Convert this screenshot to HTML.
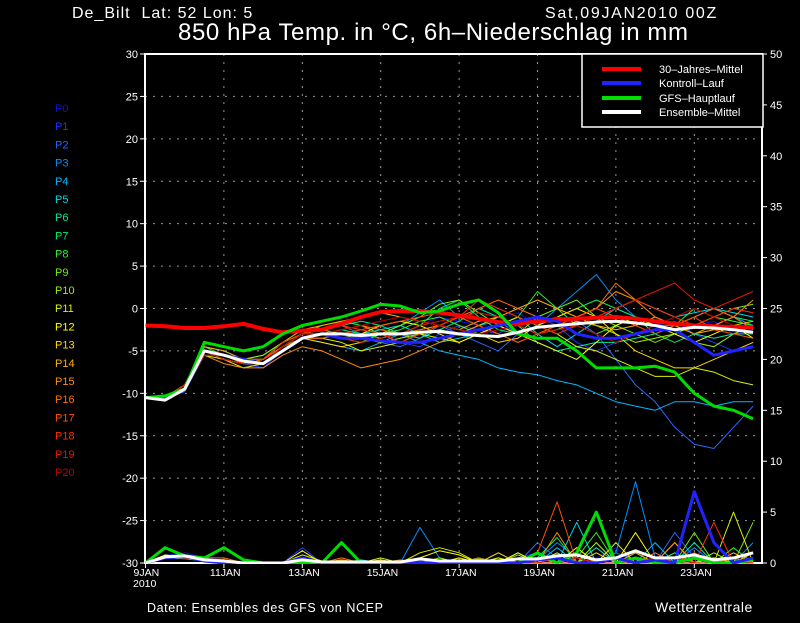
<!DOCTYPE html>
<html><head><meta charset="utf-8"><style>
body{margin:0;background:#000;width:800px;height:618px;overflow:hidden;font-family:"Liberation Sans",sans-serif;color:#fff}
svg text{font-family:"Liberation Sans",sans-serif;white-space:pre}
</style></head><body>
<svg id="chart" width="800" height="618" xmlns="http://www.w3.org/2000/svg">
<rect width="800" height="618" fill="#000"/>
<text x="72" y="18" font-size="16" fill="#fff" letter-spacing="1" xml:space="preserve">De_Bilt  Lat: 52 Lon: 5</text>
<text x="545" y="18" font-size="16" fill="#fff" letter-spacing="1.7">Sat,09JAN2010 00Z</text>
<text x="178" y="40" font-size="24" fill="#fff" letter-spacing="0.6">850 hPa Temp. in °C, 6h–Niederschlag in mm</text>
<text x="147" y="612" font-size="12.5" fill="#fff" letter-spacing="0.6">Daten: Ensembles des GFS von NCEP</text>
<text x="655" y="612" font-size="14" fill="#fff" letter-spacing="0.5">Wetterzentrale</text>
<defs><clipPath id="pc"><rect x="145" y="54" width="617" height="510"/></clipPath></defs>
<g id="grid"></g><g id="axes"></g><g id="members" clip-path="url(#pc)"></g><g id="members-labels"></g>
<g id="legend">
<rect x="582" y="54" width="181" height="73" fill="#000" stroke="#fff" stroke-width="1.5"/>
<line x1="602" y1="69" x2="641" y2="69" stroke="#f00" stroke-width="4"/>
<text x="659" y="73" font-size="11" fill="#fff">30–Jahres–Mittel</text>
<line x1="602" y1="83" x2="641" y2="83" stroke="#22f" stroke-width="4"/>
<text x="659" y="87" font-size="11" fill="#fff">Kontroll–Lauf</text>
<line x1="602" y1="98" x2="641" y2="98" stroke="#0d0" stroke-width="4"/>
<text x="659" y="102" font-size="11" fill="#fff">GFS–Hauptlauf</text>
<line x1="602" y1="112" x2="641" y2="112" stroke="#fff" stroke-width="4"/>
<text x="659" y="116" font-size="11" fill="#fff">Ensemble–Mittel</text>
</g>
</svg>
<script>
const NS="http://www.w3.org/2000/svg";
const tempTicks=[-30,-25,-20,-15,-10,-5,0,5,10,15,20,25,30];
const precipTicks=[0,5,10,15,20,25,30,35,40,45,50];
const dateLabels=["9JAN","11JAN","13JAN","15JAN","17JAN","19JAN","21JAN","23JAN"];
const dateDays=[0,2,4,6,8,10,12,14];
const memberNames=["P0","P1","P2","P3","P4","P5","P6","P7","P8","P9","P10","P11","P12","P13","P14","P15","P16","P17","P18","P19","P20"];
const memberColors=["#1010e0","#1838ff","#2868ff","#0090ff","#00b8ff","#00d8e0","#00e8a0","#00f060","#30f030","#70f000","#a0f000","#d8f000","#ffff00","#ffd800","#ffb000","#ff9000","#ff7000","#ff5000","#ff3000","#e01800","#c00000"];
const climate=[-2,-2.1,-2.3,-2.3,-2.1,-1.8,-2.4,-2.8,-2.6,-2.5,-1.8,-1,-0.4,-0.3,-0.3,-0.5,-0.8,-1.2,-1.6,-1.8,-1.5,-1.3,-1.2,-1.1,-1,-1.2,-1.5,-1.8,-2,-2.1,-2.2,-2.2];
const ensMean=[-10.5,-10.8,-9.5,-5,-5.5,-6.2,-6.5,-5,-3.5,-3,-3,-3.2,-3,-3,-2.8,-2.7,-3,-3.2,-3.3,-2.8,-2.2,-2,-1.8,-1.6,-1.5,-1.7,-2,-2.5,-2.2,-2.3,-2.5,-2.8];
const control=[-10.5,-10.5,-9.5,-5,-5.5,-6,-6.5,-5,-3.5,-3,-3.5,-3.5,-3.8,-4,-4,-3.5,-3,-2.5,-2,-1.5,-1,-1.5,-3,-3.5,-3.5,-3,-2.5,-2.5,-4,-5.5,-5,-4.5];
const gfsMain=[-10.5,-10.3,-9.5,-4,-4.5,-5,-4.5,-3,-2,-1.5,-1,-0.3,0.5,0.3,-0.5,-0.3,0.5,1,-0.5,-3,-3.5,-3.5,-5,-7,-7,-7,-6.8,-7.5,-10,-11.5,-12,-13];
const members=[
[-10.5,-10.6,-9,-4.5,-5,-6,-6,-4.5,-3,-3,-2.5,-3,-4,-3.5,-2,-1,-1.5,-2,-1,-0.5,-2,-3,-2,-1,0,-1,-2,-3,-2,-1.5,-3,-2.5],
[-10.5,-10.5,-9.5,-5,-6,-6.5,-7,-5,-3.5,-3.5,-3,-3.5,-3,-4,-4.5,-3,-2,-2.5,-3,-1.5,-1,-2,-4,-5,-4,-3,-2,-1.5,-3,-4,-5,-4],
[-10.5,-10.6,-9.8,-5.5,-5.5,-6,-6.5,-4.5,-3,-2.5,-3,-3.5,-4,-4.5,-3.5,-2,-3,-4,-5,-3,-2,-1,-1.5,-3,-6,-9,-11,-14,-16,-16.5,-14,-11.5],
[-10.5,-10.5,-9.5,-5,-5.5,-6.5,-6,-4,-3,-2.5,-2,-3,-3,-2,-0.5,1,-1,-2,-1.5,-3,-2,0,2,4,1,-1,-2,-2,-1,0,-1,-2],
[-10.5,-10.7,-9,-5,-6,-7,-6.5,-5,-3.5,-4,-4.5,-5,-4,-3,-4,-5,-5.5,-6,-7,-7.5,-7.8,-8.5,-9,-10,-11,-11.5,-12,-11,-11,-11.5,-11,-11],
[-10.5,-10.5,-9.5,-5,-5.5,-6.5,-6,-4.5,-3.5,-3,-3.5,-3,-2.5,-2,-3,-4,-3.5,-3,-2,-1,-3,-4.5,-3,-1.5,0,1,0,-1,-0.5,0,-0.5,-1],
[-10.5,-10.5,-9,-4.5,-5,-6,-5.5,-4,-3,-2.5,-2,-1.5,-2,-3,-3.5,-2.5,-1.5,0,-1,-2,-4,-5,-4.5,-4,-4,-3.5,-3,-2,-3,-3.5,-3,-3],
[-10.5,-10.5,-9.5,-5,-5.5,-6,-6,-4.5,-3,-3,-2.5,-3,-3.5,-3,-2,0,1,-1,-2.5,-3,-2,-1,0,1,0,-1,-3,-4,-3,-2,-1,-1.5],
[-10.5,-10.6,-9,-4.5,-5.5,-6.5,-6,-4,-3,-2,-1.5,-2,-3,-2.5,-1.5,-1,-2,-3,-2,-1,2,0,-2,-3,-2,-1,-1.5,-2,0,-1,-1.5,-2],
[-10.5,-10.5,-9.5,-5,-6,-6.5,-6,-4.5,-3.5,-3,-3.5,-4,-3,-2,-1,0.5,1,-0.5,-2,-3,-1,0,1,-1,-2,-3,-4,-3,-2,-1,0,0.5],
[-10.5,-10.5,-9,-5,-5.5,-6,-5.5,-4,-3,-2.5,-3,-3.5,-4,-3.5,-3,-2.5,-3,-2,-1,-2,-3,-2.5,-1.5,-2,-3,-4,-3.5,-3,-4,-4.5,-3,-2],
[-10.5,-10.6,-9.5,-5.5,-6,-6.5,-6.5,-5,-3.5,-3.5,-4,-5,-4.5,-4,-3,-3.5,-4,-3,-2,-1,-2,-3,-4.5,-5,-6,-7,-8,-8,-7,-7.5,-8.5,-9],
[-10.5,-10.5,-9,-5,-5.5,-6,-6,-4.5,-3,-3,-3.5,-3,-2,-1.5,-2,-3,-4,-3,-2,-3,-4,-5,-6,-4,-2,-1,-2,-3,-4,-3,-2,-3.5],
[-10.5,-10.6,-9.5,-5,-6,-7,-6.5,-4.5,-3.5,-4,-4.5,-4,-3.5,-3,-2.5,-2,-2.5,-3,-4,-3.5,-2,-1,0,-1,-3,-5,-6,-7,-7,-6,-5,-4],
[-10.5,-10.5,-9,-4.5,-5,-6,-6,-4,-2.5,-2,-1.5,-1,-0.5,-1,-1.5,-2,-2.5,-1.5,-1,0,1,0,-1,-2,-2.5,-2,-1,-2,-3,-2.5,-2,-1.5],
[-10.5,-10.6,-9.5,-5.5,-6.5,-7,-7,-5.5,-4.5,-5,-6,-7,-6.5,-6,-5,-4,-3,-2,-3,-4,-3,-2,-1,0,2,1,-1,-2,-3,-2,-1,1],
[-10.5,-10.5,-9.5,-5,-5.5,-6.5,-6,-4.5,-3,-3,-2.5,-2,-2.5,-3,-2.5,-2,-1,0,1,0,-1,-1.5,-1,0,3,1,-1,-2,-1,0,-1,-2.5],
[-10.5,-10.6,-9,-5,-6,-6.5,-6,-4.5,-3.5,-3.5,-3,-2.5,-2,-1.5,-1,-0.5,-1,-2,-3,-4,-3,-2,-1,0,-1,-2,-3,-2,-1,-2.5,-3,-3.5],
[-10.5,-10.5,-9.5,-5,-5.5,-6,-6,-4,-3,-2.5,-2,-2.5,-3,-4,-3,-2,-1,1,0,-1,-2,-3,-2,-1,0,1,0,-1,-2,-1,0,-0.5],
[-10.5,-10.6,-9,-5,-6,-6.5,-6.5,-5,-3.5,-3,-3.5,-4,-3.5,-3,-2,-1.5,-1,-0.5,-1,-2,-3,-2.5,-2,-1,0,1,2,3,1,0,1,2],
[-10.5,-10.5,-9.5,-5.5,-5.5,-6,-6.5,-4.5,-3,-3,-2.5,-2,-1.5,-1,-1.5,-2,-2.5,-3,-2.5,-2,-1.5,-1,-2,-3,-4,-3,-2,-1,0,-1,-2,-3]
];
const precip=[
[0,0.5,1,0.5,0.3,0,0,0,0,0,0,0,0,0,0,0,0,0.3,0,0.5,0,1,0,0.5,1.5,0,0.5,0,1,0,0.3,0],
[0,0.8,0.8,0.3,0.2,0,0,0,1.5,0,0,0,0,0,0.2,0,0,0,0,0.5,1,0,0,2,0,0,1,0,0,0.5,0,0],
[0,0.6,0.5,0.3,0,0,0,0,0,0,0,0,0.2,0,0.5,0,0.3,0,1,0,2,0.5,0,0,1,0.3,0,3,0.5,0,1,0],
[0,0.5,0.4,0.2,0,0,0,0,0.3,0,0,0,0,0,3.5,0.5,0,0,0,0.5,0.3,2,0.5,0,1,8,0.5,0,1.5,0,0,2],
[0,0.7,0.6,0.4,0.2,0,0,0,0,0,0.2,0,0,0,0,0,0,0.5,0,0,0,1.5,0,0,0,0,2,0,0,0.5,0,0.3],
[0,0.5,0.8,0.2,0,0,0,0,0.2,0,0,0.3,0,0,0,0,0.5,0,0,1,0,0,4,0,0,0.5,0,1,0,0,0.5,0],
[0,0.6,0.5,0.3,0,0,0,0,0,0,0,0,0,0,0,0.3,0,0,0.5,0,1,0,0,1.5,0,0,0.5,0,2,0,0,0.5],
[0,0.5,0.7,0.2,0,0,0,0,0.2,0,0,0,0.3,0,0,0,0,0.5,0,0,0.5,2.5,0,0,0,1,0,0,0,0.5,0,0],
[0,0.7,0.5,0.2,0,0,0,0,0,0,0.3,0,0,0,0,0,0,0,1,0,0,0,0.5,3,0,0,0,1,0,0,1.5,0],
[0,0.5,0.6,0.3,0,0,0,0,0,0,0,0,0,0.2,0,0,0,0.3,0,0,1,0,0,0,0.5,0,0,0,3,0,0,4],
[0,0.6,0.5,0.2,0,0,0,0,0.5,0,0,0,0,0,0,0.5,0,0,0,0.8,0,0,0,2,0,0,0.5,0,0,1,0,0],
[0,0.5,0.7,0.3,0,0,0,0,0.8,0.2,0,0,0.5,0,1,1.5,1,0,0.5,0,0,1,0,0,2,0,0,0,1,0,5,0],
[0,0.8,0.5,0.3,0.2,0,0,0,1.2,0,0,0,0,0,0.5,1.2,0.8,0,0,1,0,0,1.5,0,0,3,0,0,0.5,0,0,1],
[0,0.6,0.6,0.3,0,0,0,0,0.5,0,0,0,0,0,0,0,0.5,0,0,0,0.5,0,0,1,0,0,0,2,0,0.5,0,0],
[0,0.5,0.5,0.2,0,0,0,0,0.3,0,0,0,0.3,0,0,0,0,0,1,0,0,0,0.5,0,0,1,0,0,0,0,1,0],
[0,0.7,0.7,0.3,0.3,0,0,0,0,0,0.3,0,0,0,0,0.3,0,0,0,0.5,0,3,0,0,0.5,0,0,2,0,0,0,0.5],
[0,0.6,0.5,0.5,0.5,0,0,0,0,0,0.5,0,0,0.3,0,0,0,0.5,0,0,0,0,1,0,0,0,1,0,0,0,0.5,0],
[0,0.5,0.6,0.3,0.3,0,0,0,0.3,0,0,0,0,0,0,0,0,0,0,0,1,6,0,0,0.5,0,0,0,1,0,0,0],
[0,0.6,0.5,0.3,0,0,0,0,0,0,0,0,0,0,0,0,0,0,0,0,0,0.5,0,0,0,0,0.5,0,0,4,0,0],
[0,0.5,0.6,0.2,0,0,0,0,0,0,0,0,0,0,0,0,0,0.3,0,0,0,0,0.5,0,0,0,0,0.5,0,0,0,0],
[0,0.6,0.5,0.3,0,0,0,0,0,0,0,0,0,0,0,0,0,0,0.3,0,0,0,0,0,0,0.5,0,0,0,0,0,0.3]
];
const precipMean=[0,0.6,0.7,0.3,0.2,0,0,0,0.3,0.1,0.1,0.1,0.1,0.1,0.4,0.2,0.2,0.2,0.2,0.4,0.4,0.7,0.8,0.3,0.5,1.2,0.5,0.5,0.8,0.3,0.5,1];
const precipControl=[0,0.5,0.7,0.2,0,0,0,0,0.5,0,0,0,0,0,0,0,0,0,0,0,0.3,0.5,0,0,0.5,0,0.3,0,7,2,0,0.5];
const precipGfs=[0,1.5,0.7,0.5,1.5,0.3,0,0,0,0,2,0,0,0,0,0,0,0.3,0,0,1,0,1,5,0,0.5,0,0,0.5,0,0,0.3];
const STEP=0.5;
const X0=145.5,PXD=39.2,TOP=54,BOT=563;
function xDay(d){return X0+d*PXD;}
function yTemp(v){return BOT-(v+30)*(BOT-TOP)/60;}
function yPrec(v){return BOT-v*(BOT-TOP)/50;}
const svg=document.getElementById('chart');
const grid=document.getElementById('grid'),axes=document.getElementById('axes'),mem=document.getElementById('members'),lab=document.getElementById('members-labels');
function mk(tag,attrs,parent){const e=document.createElementNS(NS,tag);for(const k in attrs)e.setAttribute(k,attrs[k]);parent.appendChild(e);return e;}
tempTicks.forEach(v=>{
  const y=yTemp(v);
  if(v>-30&&v<30){const g=mk('line',{x1:145,x2:762,y1:y,y2:y,stroke:'#999','stroke-dasharray':'2,6','stroke-width':1},grid);
  
  }
  mk('line',{x1:140,x2:145,y1:y,y2:y,stroke:'#fff'},axes);
  const t=mk('text',{x:138,y:y+4,'font-size':11,fill:'#fff','text-anchor':'end'},axes);t.textContent=v;
  
  
});
precipTicks.forEach(v=>{
  const y=yPrec(v);
  mk('line',{x1:762,x2:767,y1:y,y2:y,stroke:'#fff'},axes);
  const t=mk('text',{x:770,y:y+4,'font-size':11,fill:'#fff'},axes);t.textContent=v;
  
  
});
dateLabels.forEach((s,i)=>{
  const x=xDay(dateDays[i]);
  if(i>0){const g=mk('line',{x1:x,x2:x,y1:TOP,y2:BOT,stroke:'#999','stroke-dasharray':'2,6'},grid);
  
  }
  mk('line',{x1:x,x2:x,y1:BOT,y2:BOT+5,stroke:'#fff'},axes);
  const t=mk('text',{x:i==0?x-12:x-14,y:BOT+13,'font-size':10.5,fill:'#fff'},axes);t.textContent=s;
  
  
});
const yr=mk('text',{x:133,y:BOT+24,'font-size':10.5,fill:'#fff'},axes);yr.textContent="2010";


const fr=mk('rect',{x:145,y:TOP,width:617,height:BOT-TOP,fill:'none',stroke:'#fff','stroke-width':2},axes);


function line(arr,yf,color,w,name){
  const pts=arr.map((v,i)=>xDay(i*STEP).toFixed(1)+','+yf(v).toFixed(1)).join(' ');
  const p=mk('polyline',{points:pts,fill:'none',stroke:color,'stroke-width':w,'stroke-linejoin':'round'},mem);
  
  
}
members.forEach((m,i)=>line(m,yTemp,memberColors[i],1,'temp-'+memberNames[i].toLowerCase()));
precip.forEach((m,i)=>line(m,yPrec,memberColors[i],1,'precip-'+memberNames[i].toLowerCase()));
line(precipGfs,yPrec,'#0d0',3,'precip-gfs-main');
line(precipControl,yPrec,'#22f',3,'precip-control');
line(precipMean,yPrec,'#fff',3,'precip-ensemble-mean');
line(climate,yTemp,'#f00',4,'climate-mean-line');
line(control,yTemp,'#22f',3,'control-run-line');
line(gfsMain,yTemp,'#0d0',3,'gfs-main-line');
line(ensMean,yTemp,'#fff',3,'ensemble-mean-line');
memberNames.forEach((n,i)=>{
  const t=mk('text',{x:55,y:112+i*18.2,'font-size':11,fill:memberColors[i]},lab);t.textContent=n;
  
  
});
</script>
</body></html>
